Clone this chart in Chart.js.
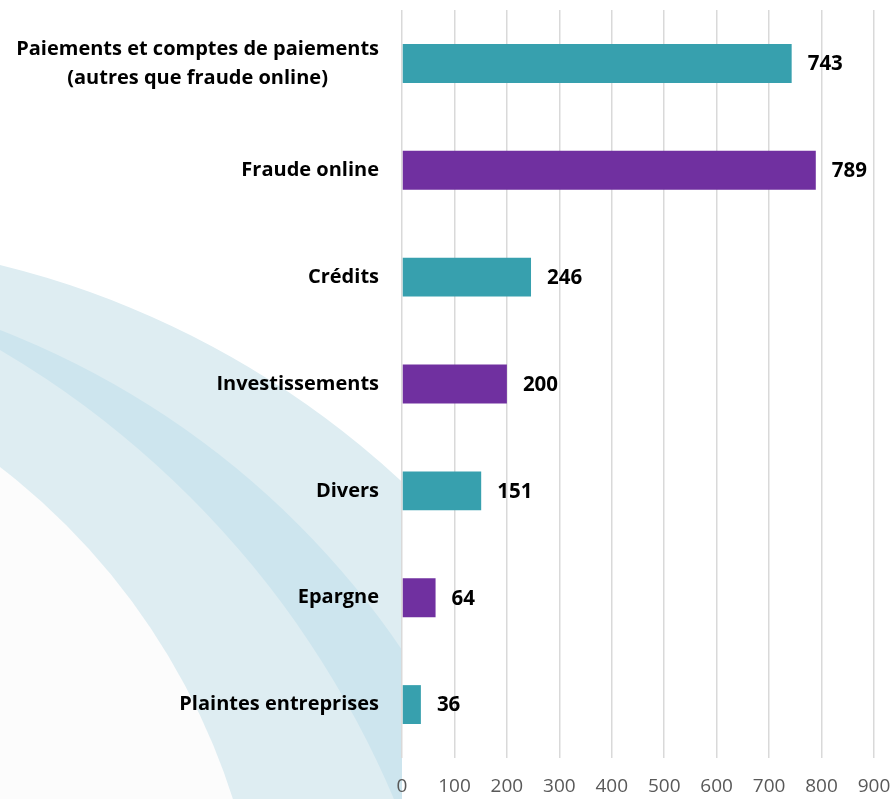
<!DOCTYPE html>
<html>
<head>
<meta charset="utf-8">
<script src="https://cdn.jsdelivr.net/npm/chart.js@4/dist/chart.umd.min.js"></script>
<style>
  html, body { margin: 0; padding: 0; background: #ffffff; }
  #wrap { width: 895px; height: 799px; position: relative; }
</style>
</head>
<body>
<div id="wrap"><canvas id="c" width="895" height="799"></canvas></div>
<script>
// ---- Data ----
const categories = [
  ["Paiements et comptes de paiements", "(autres que fraude online)"],
  "Fraude online",
  "Crédits",
  "Investissements",
  "Divers",
  "Epargne",
  "Plaintes entreprises"
];
const values = [743, 789, 246, 200, 151, 64, 36];
const barColors = ["#37a0ae", "#7030a0", "#37a0ae", "#7030a0", "#37a0ae", "#7030a0", "#37a0ae"];
const xTicks = [0, 100, 200, 300, 400, 500, 600, 700, 800, 900];

// ---- Decorative background (arcs on the left) ----
const bgPlugin = {
  id: 'bg',
  beforeDraw(chart) {
    const ctx = chart.ctx;
    const W = chart.width, H = chart.height;
    const left = chart.chartArea.left;
    ctx.save();
    ctx.fillStyle = '#ffffff';
    ctx.fillRect(0, 0, W, H);
    ctx.beginPath();
    ctx.rect(0, 0, left, H);
    ctx.clip();
    const circ = (cx, cy, r, col) => {
      ctx.beginPath();
      ctx.arc(cx, cy, r, 0, Math.PI * 2);
      ctx.fillStyle = col;
      ctx.fill();
    };
    circ(-217.6, 1149.4, 910.8, '#deedf2');
    circ(-312.8, 1135.6, 864.2, '#cde5ee');
    circ(-482.5, 1170.5, 951.9, '#deedf2');
    circ(-412.9, 1004.4, 677.7, '#fcfcfc');
    ctx.restore();
  }
};

// ---- Category labels (right-aligned block, centered lines) ----
const catLabelPlugin = {
  id: 'catLabels',
  afterDraw(chart) {
    const ctx = chart.ctx;
    const yScale = chart.scales.y;
    const rightEdge = chart.chartArea.left - 23;
    ctx.save();
    ctx.font = 'bold 20px "Open Sans"';
    ctx.fillStyle = '#000000';
    ctx.textBaseline = 'middle';
    ctx.textAlign = 'center';
    categories.forEach((lab, i) => {
      const lines = Array.isArray(lab) ? lab : [lab];
      const blockW = Math.max(...lines.map(l => ctx.measureText(l).width));
      const cx = rightEdge - blockW / 2;
      const cy = yScale.getPixelForValue(i);
      const lh = 29;
      lines.forEach((l, k) => {
        ctx.fillText(l, cx, cy + (k - (lines.length - 1) / 2) * lh);
      });
    });
    ctx.restore();
  }
};

// ---- Value labels ----
const valueLabelPlugin = {
  id: 'valueLabels',
  afterDatasetsDraw(chart) {
    const ctx = chart.ctx;
    const meta = chart.getDatasetMeta(0);
    ctx.save();
    ctx.font = 'bold 20.5px "Open Sans"';
    ctx.fillStyle = '#000000';
    ctx.textBaseline = 'middle';
    ctx.textAlign = 'left';
    meta.data.forEach((bar, i) => {
      ctx.fillText(String(values[i]), bar.x + 16, bar.y + 1);
    });
    ctx.restore();
  }
};

new Chart(document.getElementById('c'), {
  type: 'bar',
  data: {
    labels: categories,
    datasets: [{
      data: values,
      backgroundColor: barColors,
      borderWidth: 0,
      categoryPercentage: 1,
      barPercentage: 0.364
    }]
  },
  options: {
    indexAxis: 'y',
    responsive: false,
    animation: false,
    events: [],
    layout: { padding: { top: 10, right: 21, bottom: 0, left: 0 } },
    plugins: {
      legend: { display: false },
      tooltip: { enabled: false },
      title: { display: false }
    },
    scales: {
      x: {
        type: 'linear',
        min: xTicks[0],
        max: xTicks[xTicks.length - 1],
        afterBuildTicks(scale) { scale.ticks = xTicks.map(v => ({ value: v })); },
        afterFit(scale) {
          scale.height = 41;
          scale.paddingLeft = 0;
          scale.paddingRight = 0;
        },
        grid: { color: '#d9d9d9', lineWidth: 1.5, drawTicks: false },
        border: { display: false },
        ticks: {
          color: '#595959',
          font: { family: 'Open Sans', size: 19 },
          padding: 17,
          maxRotation: 0
        }
      },
      y: {
        afterFit(scale) { scale.width = 402; },
        grid: { display: false, drawTicks: false },
        border: { display: false },
        ticks: { display: false }
      }
    }
  },
  plugins: [bgPlugin, catLabelPlugin, valueLabelPlugin]
});
</script>
</body>
</html>
